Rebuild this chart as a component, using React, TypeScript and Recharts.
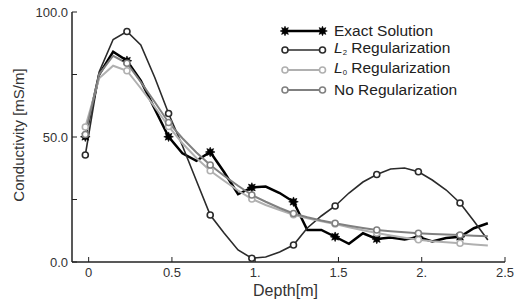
import React from 'react';
import { LineChart, Line, XAxis, YAxis, Legend } from 'recharts';

const depth = [-0.02, 0.063, 0.147, 0.23, 0.313, 0.397, 0.48, 0.563, 0.647, 0.73, 0.813, 0.897, 0.98, 1.063, 1.147, 1.23, 1.313, 1.397, 1.48, 1.563, 1.647, 1.73, 1.813, 1.897, 1.98, 2.063, 2.147, 2.23, 2.313, 2.397];
const exact = [50.1, 75, 84.1, 80.5, 72.5, 61.2, 50.1, 43.5, 40.5, 44, 36, 27.1, 29.8, 30.2, 27.6, 24.1, 12.8, 12.8, 10.1, 7.3, 11.5, 9.2, 9.8, 9, 10, 8.2, 9.6, 10.1, 13.5, 15.5];
const l2 = [42.8, 76, 89, 92.2, 86.8, 73.8, 59.4, 46.5, 32.5, 18.8, 11.6, 4.8, 1.5, 2, 4, 6.8, 13.6, 18.4, 22.4, 27.6, 32, 35, 37.2, 37.6, 36.1, 32.8, 28.8, 23.6, 16.4, 8.8];
const l0 = [54, 73.5, 78.5, 76.5, 69.5, 62, 54.2, 47.5, 41.6, 36.5, 32.5, 28.6, 25.2, 22.8, 20.8, 18.9, 17.5, 16.3, 15.2, 13.9, 12.7, 11.6, 10.6, 9.7, 8.9, 8.3, 7.9, 7.5, 7.0, 6.6];
const noReg = [51, 75, 82.5, 79.5, 72, 64, 55.8, 49.5, 43.8, 38.8, 34.5, 30.5, 26.8, 24.1, 21.6, 19.4, 17.9, 16.6, 15.5, 14.5, 13.6, 12.8, 12.3, 11.9, 11.5, 11.2, 11.0, 10.8, 10.5, 10.3];

const xTicks = [0, 0.5, 1, 1.5, 2, 2.5];
const xTickLabels = ['0', '0.5', '1.', '1.5', '2.', '2.5'];
const yTicks = [0, 25, 50, 75, 100];
const yTickLabels = ['0.0', '', '50.0', '', '100.0'];

const data = depth.map((d, i) => ({ depth: d, exact: exact[i], l2: l2[i], l0: l0[i], noReg: noReg[i] }));

const FONT = '"Liberation Sans", Arial, Helvetica, sans-serif';
const C_EXACT = '#000000';
const C_L2 = '#2b2b2b';
const C_L0 = '#b0b0b0';
const C_NO = '#808080';

function starPath(cx: number, cy: number, ro: number, ri: number, n = 8) {
  let d = '';
  for (let k = 0; k < n * 2; k++) {
    const r = k % 2 === 0 ? ro : ri;
    const a = (Math.PI * k) / n - Math.PI / 2;
    d += (k === 0 ? 'M' : 'L') + (cx + r * Math.cos(a)).toFixed(2) + ',' + (cy + r * Math.sin(a)).toFixed(2);
  }
  return d + 'Z';
}

const StarMark = ({ cx, cy }: { cx: number; cy: number }) => (
  <path d={starPath(cx, cy, 4.8, 2.6)} fill={C_EXACT} stroke={C_EXACT} strokeWidth={0.6} />
);

const CircleMark = ({ cx, cy, color }: { cx: number; cy: number; color: string }) => (
  <circle cx={cx} cy={cy} r={3} fill="#fff" stroke={color} strokeWidth={1.6} />
);

const starDot = (props: any) => {
  const { cx, cy, index } = props;
  if (index % 3 !== 0 || cx == null || cy == null) return <g key={`s${index}`} />;
  return <g key={`s${index}`}><StarMark cx={cx} cy={cy} /></g>;
};

const circleDot = (color: string) => (props: any) => {
  const { cx, cy, index } = props;
  if (index % 3 !== 0 || cx == null || cy == null) return <g key={`c${index}`} />;
  return <g key={`c${index}`}><CircleMark cx={cx} cy={cy} color={color} /></g>;
};

const legendItems = [
  { key: 'exact', color: C_EXACT, width: 2.5, star: true, label: <>Exact Solution</> },
  { key: 'l2', color: C_L2, width: 1.6, star: false, label: <><i>L</i><sub style={{ fontSize: '0.5em', verticalAlign: '-0.25em' }}>2</sub> Regularization</> },
  { key: 'l0', color: C_L0, width: 2, star: false, label: <><i>L</i><sub style={{ fontSize: '0.5em', verticalAlign: '-0.25em' }}>0</sub> Regularization</> },
  { key: 'noReg', color: C_NO, width: 2, star: false, label: <>No Regularization</> },
];

const renderLegend = () => (
  <div style={{ fontFamily: FONT, fontSize: 15.5, color: '#222' }}>
    {legendItems.map((it) => (
      <div key={it.key} style={{ display: 'flex', alignItems: 'center', height: 19.8, whiteSpace: 'nowrap' }}>
        <svg width={55} height={20} style={{ flex: 'none' }}>
          <line x1={6} x2={43.5} y1={10} y2={10} stroke={it.color} strokeWidth={it.width} />
          {it.star ? (
            <>
              <StarMark cx={6} cy={10} />
              <StarMark cx={43.5} cy={10} />
            </>
          ) : (
            <>
              <CircleMark cx={6} cy={10} color={it.color} />
              <CircleMark cx={43.5} cy={10} color={it.color} />
            </>
          )}
        </svg>
        <span style={{ lineHeight: '20px' }}>{it.label}</span>
      </div>
    ))}
  </div>
);

const renderYLabel = (props: any) => {
  const vb = props.viewBox || { x: 12, y: 12, width: 60, height: 250 };
  const x = 18;
  const y = vb.y + vb.height / 2 - 2;
  return (
    <text x={x} y={y} transform={`rotate(-90 ${x} ${y})`} textAnchor="middle" dominantBaseline="central"
      fontFamily={FONT} fontSize={15} fill="#333">
      Conductivity [mS/m]
    </text>
  );
};

export default function App() {
  return (
    <div style={{ position: 'absolute', left: 0, top: 0, width: 517, height: 304, background: '#fff' }}>
      <LineChart width={517} height={304} data={data} margin={{ top: 12, right: 12, bottom: 12, left: 12 }}>
        <XAxis
          dataKey="depth"
          type="number"
          domain={[-0.1, 2.5]}
          ticks={xTicks}
          interval={0}
          height={30}
          tickSize={-5}
          tickMargin={11}
          tickFormatter={(v: number) => xTickLabels[xTicks.indexOf(v)] ?? String(v)}
          tick={{ fill: '#333', fontSize: 13, fontFamily: FONT }}
          axisLine={{ stroke: '#222', strokeWidth: 1.5 }}
          tickLine={{ stroke: '#222', strokeWidth: 1 }}
          label={{ value: 'Depth[m]', position: 'insideBottom', offset: -4, fill: '#333', fontSize: 16, fontFamily: FONT, dx: -3 }}
        />
        <XAxis
          xAxisId="top"
          orientation="top"
          dataKey="depth"
          type="number"
          domain={[-0.1, 2.5]}
          height={0}
          tick={false}
          tickLine={false}
          axisLine={{ stroke: '#555', strokeWidth: 2 }}
        />
        <YAxis
          type="number"
          domain={[0, 100]}
          ticks={yTicks}
          interval={0}
          width={60}
          tickSize={-5}
          tickMargin={9}
          tickFormatter={(v: number) => yTickLabels[yTicks.indexOf(v)] ?? ''}
          tick={{ fill: '#333', fontSize: 13, fontFamily: FONT }}
          axisLine={{ stroke: '#222', strokeWidth: 1.5 }}
          tickLine={{ stroke: '#222', strokeWidth: 1 }}
          label={renderYLabel}
        />
        <YAxis
          yAxisId="right"
          orientation="right"
          type="number"
          domain={[0, 100]}
          width={0}
          tick={false}
          tickLine={false}
          axisLine={{ stroke: '#555', strokeWidth: 2 }}
        />
        <Legend
          layout="horizontal"
          verticalAlign="middle"
          align="center"
          content={renderLegend}
          wrapperStyle={{ position: 'absolute', left: 279, top: 20.7, width: 230, height: 80 }}
        />
        <Line type="linear" dataKey="exact" stroke={C_EXACT} strokeWidth={2.5} dot={starDot} activeDot={false} isAnimationActive={false} />
        <Line type="linear" dataKey="l2" stroke={C_L2} strokeWidth={1.6} dot={circleDot(C_L2)} activeDot={false} isAnimationActive={false} />
        <Line type="linear" dataKey="l0" stroke={C_L0} strokeWidth={2} dot={circleDot(C_L0)} activeDot={false} isAnimationActive={false} />
        <Line type="linear" dataKey="noReg" stroke={C_NO} strokeWidth={2} dot={circleDot(C_NO)} activeDot={false} isAnimationActive={false} />
      </LineChart>
    </div>
  );
}
